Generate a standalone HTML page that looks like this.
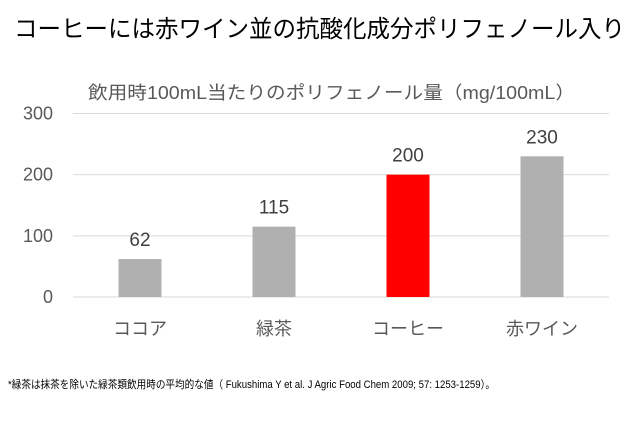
<!DOCTYPE html>
<html><head><meta charset="utf-8"><style>
body{margin:0;width:640px;height:421px;background:#fff;overflow:hidden;font-family:"Liberation Sans","Noto Sans CJK JP",sans-serif;}
svg{position:absolute;left:0;top:0}
</style></head><body>
<svg width="640" height="421">
<text x="14" y="37" font-size="24" fill="#000" textLength="611" lengthAdjust="spacingAndGlyphs">コーヒーには赤ワイン並の抗酸化成分ポリフェノール入り</text>
<text x="88" y="99" font-size="18" fill="#595959" textLength="487" lengthAdjust="spacingAndGlyphs">飲用時100mL当たりのポリフェノール量（mg/100mL）</text>
<g id="grid"></g><g id="bars"></g>
<text x="8" y="388" font-size="11" fill="#000" textLength="487" lengthAdjust="spacingAndGlyphs">*緑茶は抹茶を除いた緑茶類飲用時の平均的な値（ Fukushima Y et al. J Agric Food Chem 2009; 57: 1253-1259）。</text>
</svg>
<script>
const categories=["ココア","緑茶","コーヒー","赤ワイン"];
const values=[62,115,200,230];
const highlight=[false,false,true,false];
const ticks=[0,100,200,300];
const NS="http://www.w3.org/2000/svg";
const x0=73,x1=609,y0=297,yTop=113.5,maxV=300;
const y=v=>y0-(v/maxV)*(y0-yTop);
const band=(x1-x0)/categories.length;
const cx=i=>x0+band*(i+0.5);
function mk(tag,attrs,parent){const e=document.createElementNS(NS,tag);for(const k in attrs)e.setAttribute(k,attrs[k]);parent.appendChild(e);return e;}
const grid=document.getElementById('grid'),bars=document.getElementById('bars');
ticks.forEach(t=>{
 const l=mk('line',{x1:x0,x2:x1,y1:y(t),y2:y(t),stroke:'#d9d9d9','stroke-width':1},grid);
 
 
 const tx=mk('text',{x:53,y:y(t)+6,'text-anchor':'end','font-size':18,fill:'#595959'},grid);
 tx.textContent=t;
 
 
});
categories.forEach((c,i)=>{
 const w=43;
 const r=mk('rect',{x:cx(i)-w/2,y:y(values[i]),width:w,height:y0-y(values[i]),fill:highlight[i]?'#ff0000':'#b0b0b0'},bars);
 
 
 const lb=mk('text',{x:cx(i),y:y(values[i])-13,'text-anchor':'middle','font-size':19,fill:'#404040'},bars);
 lb.textContent=values[i];
 
 
 const ct=mk('text',{x:cx(i),y:335,'text-anchor':'middle','font-size':18,fill:'#595959'},bars);
 ct.textContent=c;
 
 
});
</script>
</body></html>
